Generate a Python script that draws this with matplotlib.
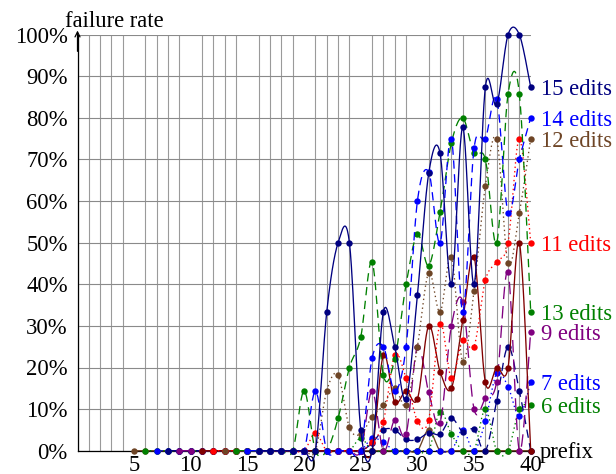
import numpy as np
import matplotlib
matplotlib.use("Agg")
import matplotlib.pyplot as plt

plt.rcParams['font.family'] = ['Liberation Serif', 'DejaVu Serif']
plt.rcParams['lines.scale_dashes'] = False

# ---------------- data (failure rate in % per prefix length) ----------------
x_last = 40

start_5 = 5
edits_5 = [0, 0, 0, 0, 0, 0, 0, 0, 0, 0, 0, 0, 0, 0, 0, 0, 0, 0, 0, 0, 0, 0, 0, 0, 0, 0,
           5, 0, 0, 0, 0, 0, 0, 0, 0, 0]

start_6 = 6
edits_6 = [0, 0, 0, 0, 0, 0, 0, 0, 0, 0, 0, 0, 0, 0, 0, 0, 0, 0, 0,
           3, 0, 0, 0, 0, 0, 0, 9.4, 4, 0, 0, 10, 0, 0, 10, 11]

start_7 = 7
edits_7 = [0, 0, 0, 0, 0, 0, 0, 0, 0, 0, 0, 0, 0, 0, 0, 0, 0, 0, 0,
           3, 2, 0, 0, 0, 0, 0, 0, 5, 0, 7.1, 18.6, 15.4, 8.3, 16.6]

start_8 = 8
edits_8 = [0, 0, 0, 0, 0, 0, 0, 0, 0, 0, 0, 0, 0, 0, 0, 0, 0, 0,
           1.8, 5, 5, 2.7, 2.7, 4.3, 4, 7.8, 4.6, 5.1, 0, 12, 25, 14.3, 0]

start_9 = 9
edits_9 = [0, 0, 0, 0, 0, 0, 0, 0, 0, 0, 0, 0, 0, 0, 0, 0, 0,
           14.4, 0, 7.4, 4, 25, 14, 6.7, 30, 35.8, 10, 12.6, 16.6, 42.9, 0, 28.6]

start_10 = 11
edits_10 = [0, 0, 0, 0, 0, 0, 0, 0, 0, 0, 0, 0, 0, 0, 0, 0,
            23, 11.7, 14.4, 12.4, 30, 19, 15, 31.3, 46.6, 16.4, 20, 20, 50, 0]

start_11 = 12
edits_11 = [0, 0, 0, 0, 0, 0, 0, 0, 0,
            4.2, 0, 0, 0, 0, 2, 7, 23, 17.4, 7.2, 7.5, 30.5, 17.5, 26.6, 25,
            41, 45.4, 50, 75, 50]

start_12 = 13
edits_12 = [0, 0, 0, 0, 0, 0, 0, 0, 0,
            14.4, 18.2, 5.6, 4, 8.2, 11, 15, 11, 25, 42.8, 33.3, 46.6, 21.4,
            38.5, 63.7, 75, 45, 57.2, 75]

start_13 = 14
edits_13 = [0, 0, 0, 0, 0, 0,
            14.4, 0, 0, 7.8, 20, 27.3, 45.4, 18.1, 22, 40, 52, 44.5, 57.3, 74,
            80, 71.5, 70, 50, 85.7, 85.7, 33.4]

start_14 = 15
edits_14 = [0, 0, 0, 0, 0, 0,
            14.3, 0, 0, 0, 0, 22.2, 25, 14.4, 25, 60, 67, 50, 75, 33.4, 72.7,
            75, 84.6, 57.2, 70, 80]

start_15 = 16
edits_15 = [0, 0, 0, 0, 0, 0,
            33.4, 50, 50, 5, 0, 33.4, 25, 12.4, 37.4, 66.7, 71.5, 40, 77.7, 40,
            87.4, 83.3, 100, 100, 87.4]

y_ticks = [0, 10, 20, 30, 40, 50, 60, 70, 80, 90, 100]
x_ticks = [5, 10, 15, 20, 25, 30, 35, 40]

NAVY, BLUE, GREEN = '#000080', '#0000ff', '#008000'
BROWN, RED, PURPLE, MAROON = '#6e4526', '#ff0000', '#800080', '#800000'
DASH = (0, (6, 4))
LDASH = (0, (9, 5))
DOT = (0, (1, 2.2))

series = [
    (start_5, edits_5, BROWN, '-', None),
    (start_6, edits_6, GREEN, DOT, '6 edits'),
    (start_7, edits_7, BLUE, DOT, '7 edits'),
    (start_8, edits_8, NAVY, DASH, None),
    (start_9, edits_9, PURPLE, LDASH, '9 edits'),
    (start_10, edits_10, MAROON, '-', None),
    (start_11, edits_11, RED, DOT, '11 edits'),
    (start_12, edits_12, BROWN, DOT, '12 edits'),
    (start_13, edits_13, GREEN, DASH, '13 edits'),
    (start_14, edits_14, BLUE, DASH, '14 edits'),
    (start_15, edits_15, NAVY, '-', '15 edits'),
]


def smooth(xs, ys, t=0.165, n=24):
    P = np.column_stack([xs, ys]).astype(float)
    m = len(P)
    out = [P[0:1]]
    s = np.linspace(0, 1, n)[1:, None]
    for i in range(m - 1):
        pm = P[i - 1] if i > 0 else P[i]
        p0 = P[i]
        p1 = P[i + 1]
        p2 = P[i + 2] if i + 2 < m else P[i + 1]
        c1 = p0 + t * (p1 - pm)
        c2 = p1 - t * (p2 - p0)
        seg = ((1 - s) ** 3) * p0 + 3 * ((1 - s) ** 2) * s * c1 \
            + 3 * (1 - s) * (s ** 2) * c2 + (s ** 3) * p1
        out.append(seg)
    return np.vstack(out)


fig = plt.figure(figsize=(6.16, 4.74), dpi=100)
W, H = 616, 474
left, right = 77.5, 530.7
bottom, top = 450.7, 34.7
ax = fig.add_axes([left / W, 1 - bottom / H, (right - left) / W, (bottom - top) / H])

ax.set_xlim(0, 40)
ax.set_ylim(0, 100)

for k, (st, vals, col, ls, lab) in enumerate(series):
    xs = np.arange(st, st + len(vals))
    curve = smooth(xs, vals)
    ax.plot(curve[:, 0], curve[:, 1], color=col, linestyle=ls, lw=0.95,
            clip_on=False, zorder=3 + k * 0.01)
    ax.plot(xs, vals, linestyle='none', marker='o', markersize=4.6,
            color=col, markeredgewidth=0, clip_on=False, zorder=3 + k * 0.01)
    if lab is not None:
        ax.annotate(lab, xy=(xs[-1], vals[-1]), xytext=(10, 0),
                    textcoords='offset pixels', color=col, fontsize=16.3,
                    ha='left', va='center_baseline', annotation_clip=False)

ax.set_xticks(x_ticks)
ax.set_xticklabels([str(v) for v in x_ticks])
ax.set_xticks(np.arange(0, 41, 1), minor=True)
ax.set_yticks(y_ticks)
ax.set_yticklabels([f'{v}%' for v in y_ticks])
ax.tick_params(axis='both', which='both', length=0, labelsize=16.3)
ax.tick_params(axis='x', pad=3)
ax.tick_params(axis='y', pad=7)

ax.grid(True, which='major', axis='y', color='#8a8a8a', lw=0.8)
ax.grid(True, which='minor', axis='x', color='#9a9a9a', lw=0.8)
ax.set_axisbelow(True)

for sp in ['top', 'right']:
    ax.spines[sp].set_visible(False)
ax.spines['left'].set_linewidth(0.9)
ax.spines['bottom'].set_linewidth(0.9)

ax.annotate('', xy=(0, 101), xytext=(0, 96),
            arrowprops=dict(arrowstyle='->', lw=0.9, color='black',
                            mutation_scale=9, shrinkA=0, shrinkB=0),
            annotation_clip=False)

ax.annotate('failure rate', xy=(0, 1), xycoords='axes fraction',
            xytext=(37, 8), textcoords='offset pixels', ha='center',
            va='baseline', fontsize=16.3)
ax.annotate('prefix', xy=(1, 0), xycoords='axes fraction',
            xytext=(9, -2), textcoords='offset pixels', ha='left',
            va='center', fontsize=16.3)

fig.savefig('out.png', dpi=100)
